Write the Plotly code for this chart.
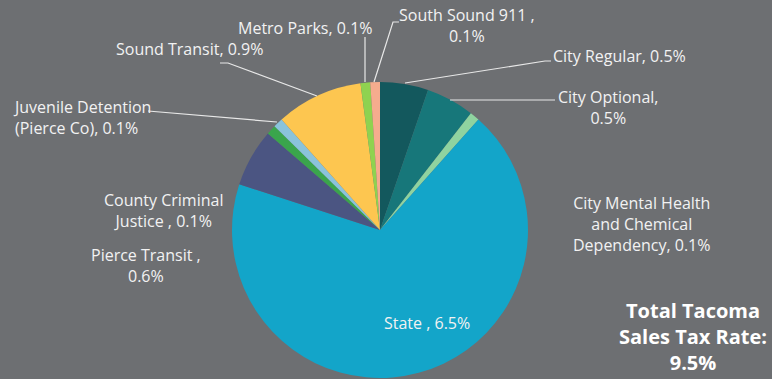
import plotly.graph_objects as go

W, H = 772, 379

labels = ["City Regular", "City Optional", "City Mental Health and Chemical Dependency",
          "State", "Pierce Transit", "County Criminal Justice",
          "Juvenile Detention (Pierce Co)", "Sound Transit", "Metro Parks", "South Sound 911"]
values = [0.5, 0.5, 0.1, 6.5, 0.6, 0.1, 0.1, 0.9, 0.1, 0.1]
colors = ["#13585d", "#17777a", "#8fd3a0", "#13a5c9", "#4b5582", "#3aa54c",
          "#8ac3db", "#fdc650", "#8fd250", "#f5ac8e"]
display = ["City Regular, 0.5%", "City Optional,<br>0.5%",
           "City Mental Health<br>and Chemical<br>Dependency, 0.1%",
           "State , 6.5%", "Pierce Transit ,<br>0.6%", "County Criminal<br>Justice , 0.1%",
           "Juvenile Detention<br>(Pierce Co), 0.1%", "Sound Transit, 0.9%",
           "Metro Parks, 0.1%", "South Sound 911 ,<br>0.1%"]
total_text = "Total Tacoma<br>Sales Tax Rate:<br>9.5%"

BG = "#6d6f72"
TXT = "#f2f2f2"
FONT = "Open Sans"

def px(x):
    return x / W

def py(y):
    return 1 - y / H

# pie placement (pixels)
cx, cy, r = 380, 230, 148

fig = go.Figure(go.Pie(
    labels=labels, values=values, sort=False, direction="clockwise", rotation=0,
    marker=dict(colors=colors, line=dict(width=0)),
    textinfo="none", hoverinfo="label+value",
    domain=dict(x=[px(cx - r), px(cx + r)], y=[py(cy + r), py(cy - r)]),
    showlegend=False,
))

# label placement: (x, y, xanchor, align) in pixels
pos = {
    0: (551, 56, "left", "left"),
    1: (556, 107, "left", "center"),
    2: (641, 224, "center", "center"),
    3: (427, 323, "center", "center"),
    4: (146, 265, "center", "center"),
    5: (163, 210, "center", "center"),
    6: (11, 118, "left", "left"),
    7: (189, 49, "center", "center"),
    8: (305, 28, "center", "center"),
    9: (467, 26, "center", "center"),
}
ann = []
for i, t in enumerate(display):
    x, y, xa, al = pos[i]
    ann.append(dict(x=px(x), y=py(y), xref="paper", yref="paper", text=t,
                    showarrow=False, xanchor=xa, yanchor="middle", align=al,
                    font=dict(family=FONT, size=16, color=TXT)))
ann.append(dict(x=px(693), y=py(336), xref="paper", yref="paper", text="<b>" + total_text + "</b>",
                showarrow=False, xanchor="center", yanchor="middle", align="center",
                font=dict(family=FONT, size=20, color="#ffffff")))

leaders = [
    [(405, 83), (545, 61), (551, 61)],
    [(450, 100), (555, 100)],
    [(277, 122), (148, 111)],
    [(317, 96), (228, 63), (220, 63)],
    [(365, 82), (365, 37)],
    [(374, 82), (393, 22), (399, 22)],
]
shapes = []
for pts in leaders:
    path = "M " + " L ".join(f"{px(x)},{py(y)}" for x, y in pts)
    shapes.append(dict(type="path", xref="paper", yref="paper", path=path,
                       line=dict(color="#e8e8e8", width=1.2)))

fig.update_layout(
    width=W, height=H, margin=dict(l=0, r=0, t=0, b=0),
    paper_bgcolor=BG, plot_bgcolor=BG,
    annotations=ann, shapes=shapes,
)
fig.write_html("out.html")
